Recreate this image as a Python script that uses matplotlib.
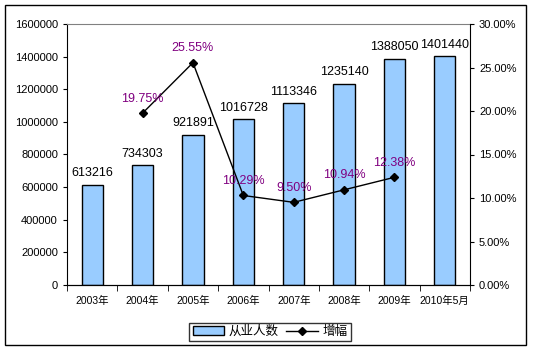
import matplotlib
matplotlib.use("Agg")
import matplotlib.pyplot as plt
from matplotlib.patches import Rectangle
from matplotlib.ticker import FuncFormatter

plt.rcParams['font.family'] = ['Liberation Sans', 'Noto Sans CJK SC', 'DejaVu Sans']

# === DATA ===
categories = ['2003年', '2004年', '2005年', '2006年', '2007年', '2008年', '2009年', '2010年5月']
workers = [613216, 734303, 921891, 1016728, 1113346, 1235140, 1388050, 1401440]
growth_idx = [1, 2, 3, 4, 5, 6]
growth = [19.75, 25.55, 10.29, 9.50, 10.94, 12.38]

W, H = 536, 352
fig = plt.figure(figsize=(W / 100, H / 100), dpi=100)

# outer chart border
fig.patches.append(Rectangle((5 / W, 1 - 345 / H), 521 / W, 340 / H, transform=fig.transFigure,
                             fill=False, edgecolor='black', linewidth=1.0))

ax = fig.add_axes([67 / W, 1 - 285 / H, (470 - 67) / W, (285 - 24) / H])
x = list(range(len(categories)))
bars = ax.bar(x, workers, width=0.42, color='#99CCFF', edgecolor='black', linewidth=1.0,
              label='从业人数', zorder=2)
for xi, v in zip(x, workers):
    ax.annotate(str(v), (xi, v), xytext=(0, 4), textcoords='offset points',
                ha='center', va='bottom', fontsize=9, color='black', zorder=5)

ax.set_xlim(-0.5, len(categories) - 0.5)
ax.set_ylim(0, 1600000)
ax.set_yticks(range(0, 1600001, 200000))
ax.yaxis.set_major_formatter(FuncFormatter(lambda v, p: f'{int(v)}'))
ax.set_xticks(x)
ax.set_xticklabels(categories, fontsize=7.5)
ax.set_xticks([i - 0.5 for i in range(len(categories) + 1)], minor=True)
ax.tick_params(axis='x', which='major', length=0, pad=8)
ax.tick_params(axis='x', which='minor', length=4, direction='out')
ax.tick_params(axis='y', labelsize=8, length=3, direction='out')
ax.spines['top'].set_color('#808080')
ax.spines['right'].set_visible(False)

ax2 = ax.twinx()
ax2.plot(growth_idx, growth, color='black', linewidth=1.0, marker='D', markersize=4,
         label='增幅', zorder=4)
for xi, g in zip(growth_idx, growth):
    ax2.annotate(f'{g:.2f}%', (xi, g), xytext=(0, 6), textcoords='offset points',
                 ha='center', va='bottom', fontsize=9, color='#800080', zorder=6)
ax2.set_ylim(0, 30)
ax2.set_yticks(range(0, 31, 5))
ax2.yaxis.set_major_formatter(FuncFormatter(lambda v, p: f'{v:.2f}%'))
ax2.tick_params(axis='y', labelsize=8, length=3, direction='out')
ax2.spines['top'].set_visible(False)
ax2.spines['left'].set_visible(False)
ax2.set_xlim(-0.5, len(categories) - 0.5)

handles = [bars, ax2.get_lines()[0]]
leg = fig.legend(handles, ['从业人数', '增幅'], loc='center', bbox_to_anchor=(270 / W, 1 - 332 / H),
                 ncol=2, fontsize=9, frameon=True, fancybox=False, edgecolor='black',
                 handlelength=2.5, columnspacing=0.6, handletextpad=0.4, borderpad=0.25)
leg.get_frame().set_linewidth(1.0)

fig.savefig('out.png', dpi=100)
